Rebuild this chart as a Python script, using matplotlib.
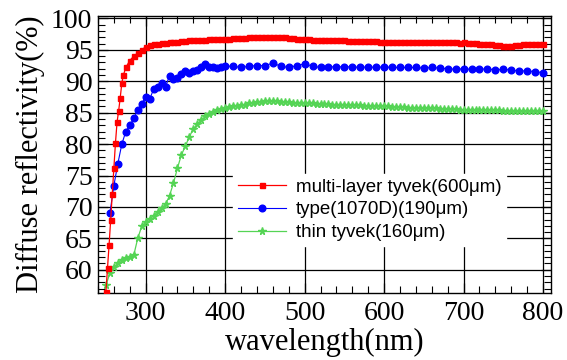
import numpy as np
import matplotlib
matplotlib.use("Agg")
import matplotlib.pyplot as plt
from matplotlib.ticker import MultipleLocator

# ---- data ----
red_wl = [250, 252, 254, 256, 258, 260, 262, 264, 266, 268, 270, 272, 275, 280, 285, 290, 295] + list(range(300, 801, 5))
red_val = [56.5, 60.3, 64.0, 68.0, 72.1, 76.2, 80.2, 83.5, 85.3, 87.4, 89.7, 91.0, 92.2, 93.3, 94.0, 94.5, 95.0,
           95.5, 95.8, 95.9, 96.0, 96.1, 96.1, 96.2, 96.3, 96.3, 96.4,
           96.4, 96.5, 96.5, 96.6, 96.6, 96.6, 96.7, 96.7, 96.7, 96.8,
           96.8, 96.8, 96.9, 96.9, 96.9, 96.9, 97.0, 97.0, 97.0, 97.0,
           97.0, 97.1, 97.1, 97.0, 97.0, 97.0, 96.9, 96.9, 96.8, 96.8,
           96.7, 96.7, 96.6, 96.6, 96.6, 96.6, 96.5, 96.5, 96.5, 96.5,
           96.5, 96.4, 96.4, 96.4, 96.4, 96.4, 96.4, 96.4, 96.4, 96.3,
           96.3, 96.3, 96.3, 96.3, 96.3, 96.3, 96.3, 96.3, 96.2, 96.2,
           96.3, 96.2, 96.2, 96.2, 96.2, 96.2, 96.2, 96.2, 96.2, 96.1,
           96.2, 96.1, 96.1, 96.1, 96.0, 96.0, 96.0, 95.9, 95.8, 95.8,
           95.7, 95.7, 95.7, 95.8, 95.8, 95.9, 95.9, 95.9, 95.9, 95.9,
           95.9]

blue_wl = list(range(255, 401, 5)) + list(range(410, 801, 10))
blue_val = [69.0, 73.4, 76.9, 80.0, 82.0, 83.0, 84.1, 85.4, 86.4, 87.5, 87.2, 88.7, 89.1, 89.8, 89.1, 90.9, 90.4, 90.5,
            91.2, 91.7, 91.3, 91.6, 91.8, 92.2, 92.8, 92.2, 92.2, 92.1, 92.2, 92.4,
            92.4, 92.2, 92.4, 92.5, 92.5, 92.9, 92.4, 92.2, 92.5, 92.8, 92.4, 92.2, 92.3, 92.3, 92.3, 92.3, 92.2, 92.3,
            92.2, 92.3, 92.2, 92.2, 92.2, 92.2, 92.1, 92.2, 92.1, 92.0, 91.9, 92.0, 91.9, 91.9, 92.0, 91.8, 91.9, 91.8,
            91.6, 91.7, 91.5, 91.4]

green_wl = list(range(250, 801, 5))
green_val = [57.5, 59.5, 60.4, 61.0, 61.6, 61.9, 62.0, 62.3, 65.0, 66.9, 67.6, 68.1, 68.6, 69.2, 69.8, 70.4, 71.8, 73.8,
             76.2, 78.3, 79.7, 81.2, 82.4, 83.2, 83.8, 84.4, 84.8, 85.1, 85.4, 85.6, 85.8, 85.9, 86.0, 86.1, 86.2, 86.3,
             86.5, 86.6, 86.7, 86.7, 86.8, 86.8, 86.8, 86.8, 86.7, 86.7, 86.7, 86.6, 86.6, 86.6, 86.5, 86.5, 86.5, 86.4,
             86.4, 86.4, 86.4, 86.3, 86.3, 86.3, 86.3, 86.2, 86.2, 86.2, 86.2, 86.1, 86.1, 86.1, 86.0, 86.0, 86.0, 86.0,
             85.9, 85.9, 85.9, 85.9, 85.8, 85.8, 85.8, 85.8, 85.7, 85.7, 85.7, 85.7, 85.6, 85.6, 85.6, 85.6, 85.6, 85.5,
             85.5, 85.5, 85.5, 85.5, 85.4, 85.4, 85.4, 85.4, 85.4, 85.4, 85.3, 85.3, 85.3, 85.3, 85.3, 85.3, 85.3, 85.3,
             85.3, 85.3, 85.3]

labels = ["multi-layer tyvek(600\u03bcm)", "type(1070D)(190\u03bcm)", "thin tyvek(160\u03bcm)"]
x_ticks = [300, 400, 500, 600, 700, 800]
y_ticks = [60, 65, 70, 75, 80, 85, 90, 95, 100]

# ---- plot ----
fig = plt.figure(figsize=(5.67, 3.6), dpi=100)
ax = fig.add_axes([0.1728, 0.1861, 0.799, 0.7695])

ax.plot(red_wl, red_val, color="#ff0000", lw=0.9, marker="s", ms=3.6, mec="#ff0000", label=labels[0], zorder=5)
ax.plot(blue_wl, blue_val, color="#0000ff", lw=0.8, marker="o", ms=4.8, mec="#0000ff", label=labels[1], zorder=4)
ax.plot(green_wl, green_val, color="#55d455", lw=0.9, marker="*", ms=5.5, mec="#55d455", label=labels[2], zorder=3)

ax.set_xlim(240, 810)
ax.set_ylim(56.3, 100.4)
ax.set_xticks(x_ticks)
ax.set_yticks(y_ticks)
ax.xaxis.set_minor_locator(MultipleLocator(20))
ax.yaxis.set_minor_locator(MultipleLocator(1))
ax.grid(True, which="major", color="black", lw=0.9)
ax.tick_params(which="both", direction="in", top=True, right=True, colors="black")
ax.tick_params(which="major", length=7, width=0.9)
ax.tick_params(which="minor", length=5, width=0.8)
for s in ax.spines.values():
    s.set_linewidth(1.0)

serif = "Liberation Serif"
for lab in ax.get_xticklabels() + ax.get_yticklabels():
    lab.set_fontfamily(serif)
    lab.set_fontsize(20)
ax.tick_params(axis="x", pad=6)
ax.tick_params(axis="y", pad=4)
ax.set_xlabel("wavelength(nm)", fontfamily=serif, fontsize=22, labelpad=1)
ax.set_ylabel("Diffuse reflectivity(%)", fontfamily=serif, fontsize=22, labelpad=4)

leg = ax.legend(loc="upper left", bbox_to_anchor=(0.298, 0.43), borderaxespad=0,
                prop={"family": "Liberation Sans", "size": 13.5}, frameon=True, fancybox=False,
                facecolor="white", edgecolor="white", framealpha=1, labelspacing=0.3,
                handlelength=2.6, handletextpad=0.5, borderpad=0.25)
leg.set_zorder(10)

fig.savefig("out.png", dpi=100)
